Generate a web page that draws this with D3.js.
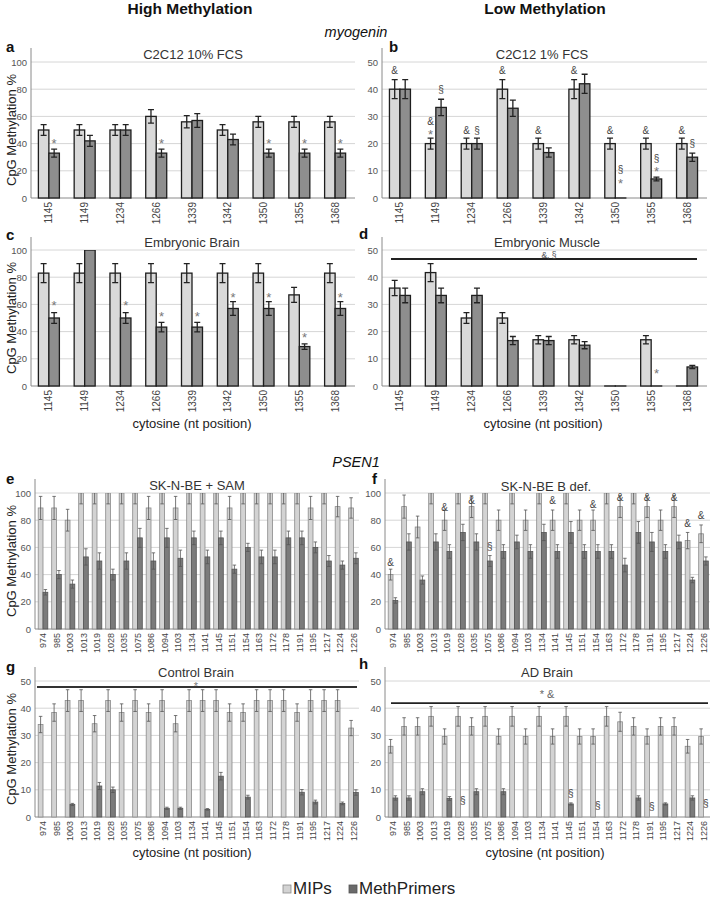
<!DOCTYPE html>
<html><head><meta charset="utf-8">
<script src="https://cdn.jsdelivr.net/npm/d3@7"></script>
<style>body{margin:0;background:#fff} svg{display:block;font-family:"Liberation Sans",Arial,sans-serif}</style>
</head><body><svg id="c" width="712" height="899"></svg>
<script>
// ---------- DATA ----------
const myoCats = ["1145","1149","1234","1266","1339","1342","1350","1355","1368"];
const psenCats = ["974","985","1003","1013","1019","1028","1035","1075","1086","1094","1103","1134","1141","1145","1151","1154","1163","1172","1178","1191","1195","1217","1224","1226"];
const yTicksPct = [0,20,40,60,80,100];
const yTicks50 = [0,10,20,30,40,50];

// a: C2C12 10% FCS
const aMIP = [50,50,50,60,56,50,56,56,56];
const aMIPerr = [4,4,4,5,4.5,4,4,4,4];
const aMeth = [33,42,50,33,57,43,33,33,33];
const aMethErr = [3,4,4,3,5,4,3,3,3];
const aNotes = [["1145","meth",43,"*"],["1266","meth",43,"*"],["1350","meth",43,"*"],["1355","meth",43,"*"],["1368","meth",43,"*"]];

// b: C2C12 1% FCS
const bMIP = [40,20,20,40,20,40,20,20,20];
const bMIPerr = [3.5,2,2,3.5,2,3.5,2,2,2];
const bMeth = [40,33.3,20,33,16.7,42,0,7,15];
const bMethErr = [3.5,3,2,3,1.7,3.5,0,0.7,1.5];
const bNotes = [["1145","mip",47,"&"],["1149","mip",28,"&"],["1149","mip",24.5,"*"],["1149","meth",40,"§"],
  ["1234","mip",25,"&"],["1234","meth",25,"§"],["1266","mip",47,"&"],["1339","mip",25,"&"],["1342","mip",47,"&"],
  ["1350","mip",25,"&"],["1350","meth",10.5,"§"],["1350","meth",6.5,"*"],["1355","mip",25,"&"],["1355","meth",14.5,"§"],
  ["1355","meth",11,"*"],["1368","mip",25,"&"],["1368","meth",20,"§"]];

// c: Embryonic Brain
const cMIP = [83,83,83,83,83,83,83,67,83];
const cMIPerr = [7,7,7,7,7,7,7,5.5,7];
const cMeth = [50,100,50,43.3,43.3,57,57,29,57];
const cMethErr = [4,0,4,3.5,3.5,5,5,2,5];
const cNotes = [["1145","meth",62,"*"],["1234","meth",62,"*"],["1266","meth",53.5,"*"],["1339","meth",53.5,"*"],
  ["1342","meth",67.5,"*"],["1350","meth",67.5,"*"],["1355","meth",38,"*"],["1368","meth",67.5,"*"]];

// d: Embryonic Muscle
const dMIP = [36,41.7,25,25,17,17,0,17,0];
const dMIPerr = [2.8,3.3,2,2,1.5,1.5,0,1.5,0];
const dMeth = [33.3,33.3,33.3,16.7,16.7,15,0,0,7];
const dMethErr = [2.7,2.7,2.7,1.5,1.5,1.3,0,0,0.6];
const dNotes = [["1355","meth",6,"*"]];

// e: SK-N-BE + SAM
const eMIP = [89,89,80,100,100,100,100,100,89,100,89,100,100,100,89,100,100,100,100,100,89,100,90,89];
const eMIPerr = [8.5,8.5,8,8,8,8,8,8,8.5,8,8.5,8,8,8,8.5,8,8,8,8,8,8.5,8,7.5,7.5];
const eMeth = [27,40,33,53,50,40,50,67,50,67,52,67,53,67,44,60,53,53,67,67,60,50,47,52];
const eMethErr = [2,3,3,6,6,4,6,7,6,7,6,5,5,5,3,3,5,5,5,5,4,4,3,4];

// f: SK-N-BE B def.
const fMIP = [40,90,75,100,80,100,90,100,80,100,80,100,80,100,80,80,100,90,100,90,80,90,65,70];
const fMIPerr = [4,8.5,8,8,7.5,8,8,8,7.5,8,7.5,8,7.5,8,7.5,7.5,8,8,8,8,7.5,8,6,6.5];
const fMeth = [21,64,36,64,57,71,64,50,57,64,57,71,57,71,57,57,57,47,71,64,57,64,36,50];
const fMethErr = [2,6,3,6,5,6,6,4,5,5,5,6,5,8,5,5,5,5,8,7,5,5,2,3];
const fNotes = [["974","mip",49,"&"],["1019","mip",89.5,"&"],["1035","mip",94.5,"&"],["1075","meth",61,"§"],
  ["1141","mip",94.5,"&"],["1154","mip",91.5,"&"],["1172","mip",96.5,"&"],["1191","mip",96.5,"&"],
  ["1217","mip",96.5,"&"],["1224","mip",77.5,"&"],["1226","mip",83.5,"&"]];

// g: Control Brain
const gMIP = [34,38.4,42.8,42.8,34.3,42.8,38.4,42.8,38.4,42.8,34.3,42.8,42.8,42.8,38.4,38.4,42.8,42.8,42.8,38.4,42.8,42.8,42.8,32.7];
const gMIPerr = [3,3.2,4,4,3,4,3.2,4,3.2,4,3,4,4,4,3.2,3.2,4,4,4,3.2,4,4,4,2.8];
const gMeth = [0,0,4.6,0,11.4,10,0,0,0,3.2,3.2,0,2.8,15,0,7.3,0,0,0,9.1,5.5,0,5,9];
const gMethErr = [0,0,0.4,0,1.3,1,0,0,0,0.4,0.4,0,0.3,1.4,0,0.7,0,0,0,1,0.7,0,0.5,1];

// h: AD Brain
const hMIP = [26,33.3,33.3,37,29.6,37,33.3,37,29.6,37,29.6,37,29.6,37,29.6,29.6,37,35,33.3,29.6,33.3,33.3,26,29.6];
const hMIPerr = [2.5,3.2,3.2,3.6,2.8,3.6,3.2,3.6,2.8,3.6,2.8,3.6,2.8,3.6,2.8,2.8,3.6,3.5,3.2,2.8,3.2,3.2,2.5,2.8];
const hMeth = [7,7,9.3,0,6.8,0,9.3,0,9.3,0,0,0,0,4.8,0,0,0,0,7,0,4.8,0,7,0];
const hMethErr = [0.8,0.8,1.1,0,0.7,0,1.1,0,1.1,0,0,0,0,0.4,0,0,0,0,0.8,0,0.4,0,0.8,0];
const hNotes = [["1028","meth",6,"§"],["1145","meth",8.7,"§"],["1154","meth",4.3,"§"],["1191","meth",4,"§"],["1226","meth",5,"§"]];

// ---------- DRAW ----------
const svg = d3.select("#c");
const FONT = '"Liberation Sans",Arial,sans-serif';

function panel(o) {
  const g = svg.append("g");
  const x = d3.scaleBand().domain(o.cats).range(o.xr);
  const y = d3.scaleLinear().domain([0, o.ymax]).range([o.y0, o.yTop]);
  g.selectAll(".grid").data(o.ticks).join("line")
    .attr("x1", o.axisX).attr("x2", o.gridEnd)
    .attr("y1", d => y(d)).attr("y2", d => y(d))
    .attr("stroke", d => d === 0 ? "#8a8a8a" : "#d6d6d6").attr("stroke-width", 1);
  const ax = g.append("g").attr("transform", `translate(${o.axisX},0)`)
    .call(d3.axisLeft(y).tickValues(o.ticks).tickSize(0).tickPadding(4).tickFormat(d3.format("d")));
  ax.select(".domain").remove();
  ax.selectAll("text").attr("font-size", 9.5).attr("fill", "#555").attr("font-family", FONT);
  g.append("line").attr("x1", o.axisX).attr("x2", o.axisX).attr("y1", o.axisTop).attr("y2", o.y0)
    .attr("stroke", "#8a8a8a").attr("stroke-width", 1);
  const bx = g.append("g").attr("transform", `translate(0,${o.y0})`)
    .call(d3.axisBottom(x).tickSize(0));
  bx.select(".domain").remove();
  bx.selectAll("text").attr("transform", "rotate(-90)").attr("text-anchor", "end")
    .attr("x", -4).attr("y", 0).attr("dy", "0.35em")
    .attr("font-size", o.xfs).attr("fill", "#444").attr("font-family", FONT);
  const cid = "clip" + o.id;
  svg.append("clipPath").attr("id", cid).append("rect")
    .attr("x", o.xr[0] - 5).attr("y", y(o.ymax)).attr("width", o.xr[1] - o.xr[0] + 10).attr("height", o.y0 - y(o.ymax) + 3);
  const bars = g.append("g").attr("clip-path", `url(#${cid})`);
  const bw = o.bw;
  const series = [
    {vals: o.mip, err: o.mipErr, off: -bw, fill: o.c1, stroke: o.s1},
    {vals: o.meth, err: o.methErr, off: 0, fill: o.c2, stroke: o.s2}
  ];
  series.forEach(s => {
    const data = o.cats.map((c, i) => ({c, v: s.vals[i], e: s.err[i]}));
    bars.selectAll(null).data(o.showZero ? data : data.filter(d => d.v > 0)).join("rect")
      .attr("x", d => x(d.c) + x.bandwidth() / 2 + s.off)
      .attr("y", d => y(d.v) - (d.v === 0 ? 0.01 : 0)).attr("width", bw)
      .attr("height", d => Math.max(0.01, y(0) - y(d.v)))
      .attr("fill", s.fill).attr("stroke", s.stroke).attr("stroke-width", o.sw);
    const eb = data.filter(d => d.e > 0);
    const cx = d => x(d.c) + x.bandwidth() / 2 + s.off + bw / 2;
    bars.selectAll(null).data(eb).join("path")
      .attr("d", d => {
        const t = y(d.v + d.e), b = y(d.v - d.e), c = cx(d), w = o.cap / 2;
        return `M${c},${t}V${b}M${c - w},${t}H${c + w}M${c - w},${b}H${c + w}`;
      })
      .attr("stroke", o.ec).attr("stroke-width", o.ew).attr("fill", "none");
  });
  (o.notes || []).forEach(n => {
    const cx = x(n[0]) + x.bandwidth() / 2 + (n[1] === "mip" ? -bw / 2 : bw / 2);
    const sym = n[3];
    const fs = sym === "*" ? o.starFs : o.symFs;
    const dy = sym === "*" ? fs * 0.62 : fs * 0.36;
    g.append("text").attr("x", cx).attr("y", y(n[2]) + dy).attr("text-anchor", "middle")
      .attr("font-size", fs).attr("fill", sym === "*" ? "#777" : "#444").attr("font-family", FONT).text(sym);
  });
  g.append("text").attr("x", o.titleX).attr("y", o.titleY).attr("text-anchor", "middle")
    .attr("font-size", o.titleFs || 13).attr("fill", "#333").attr("font-family", FONT).text(o.title);
  g.append("text").attr("x", o.letter[1]).attr("y", o.letter[2]).attr("font-size", 15).attr("font-weight", "bold")
    .attr("fill", "#111").attr("font-family", FONT).text(o.letter[0]);
  if (o.line) {
    g.append("line").attr("x1", o.line.x1).attr("x2", o.line.x2).attr("y1", y(o.line.v)).attr("y2", y(o.line.v))
      .attr("stroke", "#222").attr("stroke-width", 1.8);
    g.append("text").attr("x", o.line.tx).attr("y", y(o.line.tv) + o.line.fs * 0.4).attr("text-anchor", "middle")
      .attr("font-size", o.line.fs).attr("fill", o.line.fill || "#555").attr("font-family", FONT).text(o.line.text);
  }
  return g;
}

const big = {bw: 10.5, sw: 1.3, c1: "#d9d9d9", s1: "#1e1e1e", c2: "#8e8e8e", s2: "#1e1e1e", ec: "#222", ew: 1.3, cap: 6, xfs: 10, starFs: 13, symFs: 10, showZero: true};
const small = {bw: 4.8, sw: 0.8, c1: "#d3d3d3", s1: "#8a8a8a", c2: "#7b7b7b", s2: "#555", ec: "#555", ew: 0.8, cap: 3.5, xfs: 9, starFs: 12, symFs: 10, showZero: false};

panel(Object.assign({}, big, {id: "a", cats: myoCats, xr: [31, 353], axisX: 31, gridEnd: 355, y0: 198, yTop: 62, ymax: 100, ticks: yTicksPct, axisTop: 48,
  mip: aMIP, mipErr: aMIPerr, meth: aMeth, methErr: aMethErr, notes: aNotes, title: "C2C12 10% FCS", titleX: 193, titleY: 59, letter: ["a", 6, 52]}));
panel(Object.assign({}, big, {id: "b", cats: myoCats, xr: [382, 705], axisX: 382, gridEnd: 707, y0: 198, yTop: 62, ymax: 50, ticks: yTicks50, axisTop: 48,
  mip: bMIP, mipErr: bMIPerr, meth: bMeth, methErr: bMethErr, notes: bNotes, title: "C2C12 1% FCS", titleX: 542, titleY: 59, letter: ["b", 389, 52]}));
panel(Object.assign({}, big, {id: "c", cats: myoCats, xr: [31, 353], axisX: 31, gridEnd: 355, y0: 386, yTop: 250, ymax: 100, ticks: yTicksPct, axisTop: 237,
  mip: cMIP, mipErr: cMIPerr, meth: cMeth, methErr: cMethErr, notes: cNotes, title: "Embryonic Brain", titleX: 192, titleY: 247, letter: ["c", 6, 240]}));
panel(Object.assign({}, big, {id: "d", cats: myoCats, xr: [382, 705], axisX: 382, gridEnd: 707, y0: 386, yTop: 250, ymax: 50, ticks: yTicks50, axisTop: 237,
  mip: dMIP, mipErr: dMIPerr, meth: dMeth, methErr: dMethErr, notes: dNotes, title: "Embryonic Muscle", titleX: 547, titleY: 246.5, letter: ["d", 359, 239],
  line: {x1: 391, x2: 697, v: 46.7, tx: 549, tv: 48.2, fs: 8.5, text: "&, §"}}));
panel(Object.assign({}, small, {id: "e", cats: psenCats, xr: [36.25, 360.25], axisX: 35, gridEnd: 359, y0: 629, yTop: 493, ymax: 100, ticks: yTicksPct, axisTop: 479,
  mip: eMIP, mipErr: eMIPerr, meth: eMeth, methErr: eMethErr, notes: [], title: "SK-N-BE + SAM", titleX: 197, titleY: 490, letter: ["e", 6, 484]}));
panel(Object.assign({}, small, {id: "f", cats: psenCats, xr: [386.25, 710.25], axisX: 385, gridEnd: 710, y0: 629, yTop: 493, ymax: 100, ticks: yTicksPct, axisTop: 479,
  mip: fMIP, mipErr: fMIPerr, meth: fMeth, methErr: fMethErr, notes: fNotes, title: "SK-N-BE B def.", titleX: 546, titleY: 491, letter: ["f", 372, 484]}));
panel(Object.assign({}, small, {id: "g", cats: psenCats, xr: [36.25, 360.25], axisX: 35, gridEnd: 359, y0: 817, yTop: 681, ymax: 50, ticks: yTicks50, axisTop: 667,
  mip: gMIP, mipErr: gMIPerr, meth: gMeth, methErr: gMethErr, notes: [], title: "Control Brain", titleX: 196, titleY: 676.5, letter: ["g", 6, 672]}));
panel(Object.assign({}, small, {id: "h", cats: psenCats, xr: [386.25, 710.25], axisX: 385, gridEnd: 710, y0: 817, yTop: 681, ymax: 50, ticks: yTicks50, axisTop: 667,
  mip: hMIP, mipErr: hMIPerr, meth: hMeth, methErr: hMethErr, notes: hNotes, title: "AD Brain", titleX: 547, titleY: 677, letter: ["h", 359, 669],
  line: {x1: 391, x2: 708, v: 41.9, tx: 547, tv: 45.5, fs: 11, text: "* &", fill: "#666"}}));

// g bracket line (Control Brain)
{
  const yg = d3.scaleLinear().domain([0, 50]).range([817, 681]);
  svg.append("line").attr("x1", 37).attr("x2", 357).attr("y1", yg(47.8)).attr("y2", yg(47.8)).attr("stroke", "#333").attr("stroke-width", 2);
  svg.append("text").attr("x", 196).attr("y", yg(48.9) + 6.5).attr("text-anchor", "middle").attr("font-size", 11)
    .attr("fill", "#777").attr("font-family", FONT).text("*");
}

// headers
const hdr = (t, x, y, o) => svg.append("text").attr("x", x).attr("y", y).attr("text-anchor", "middle")
  .attr("font-family", FONT).attr("font-size", o.fs).attr("font-weight", o.fw || "normal").attr("font-style", o.fst || "normal")
  .attr("fill", o.fill || "#111").text(t);
hdr("High Methylation", 190, 14, {fs: 15.5, fw: "bold"});
hdr("Low Methylation", 545, 14, {fs: 15.5, fw: "bold"});
hdr("myogenin", 356, 37, {fs: 14.5, fst: "italic"});
hdr("PSEN1", 356, 467, {fs: 14.5, fst: "italic"});
hdr("cytosine (nt position)", 192, 428, {fs: 13, fill: "#222"});
hdr("cytosine (nt position)", 543, 428, {fs: 13, fill: "#222"});
hdr("cytosine (nt position)", 192, 857, {fs: 13, fill: "#222"});
hdr("cytosine (nt position)", 545, 857, {fs: 13, fill: "#222"});

// y titles
[130, 318, 561, 749].forEach(cy => {
  svg.append("text").attr("transform", `translate(16,${cy}) rotate(-90)`).attr("text-anchor", "middle")
    .attr("font-family", FONT).attr("font-size", 13).attr("fill", "#222").text("CpG Methylation %");
});

// legend
const legendItems = [["MIPs", "#d3d3d3", "#8a8a8a", 283, 293], ["MethPrimers", "#6a6a6a", "#555", 349, 359]];
legendItems.forEach(l => {
  svg.append("rect").attr("x", l[3]).attr("y", 885).attr("width", 8).attr("height", 8).attr("fill", l[1]).attr("stroke", l[2]).attr("stroke-width", 0.8);
  svg.append("text").attr("x", l[4]).attr("y", 893.5).attr("font-family", FONT).attr("font-size", 17).attr("fill", "#222").text(l[0]);
});
</script></body></html>
